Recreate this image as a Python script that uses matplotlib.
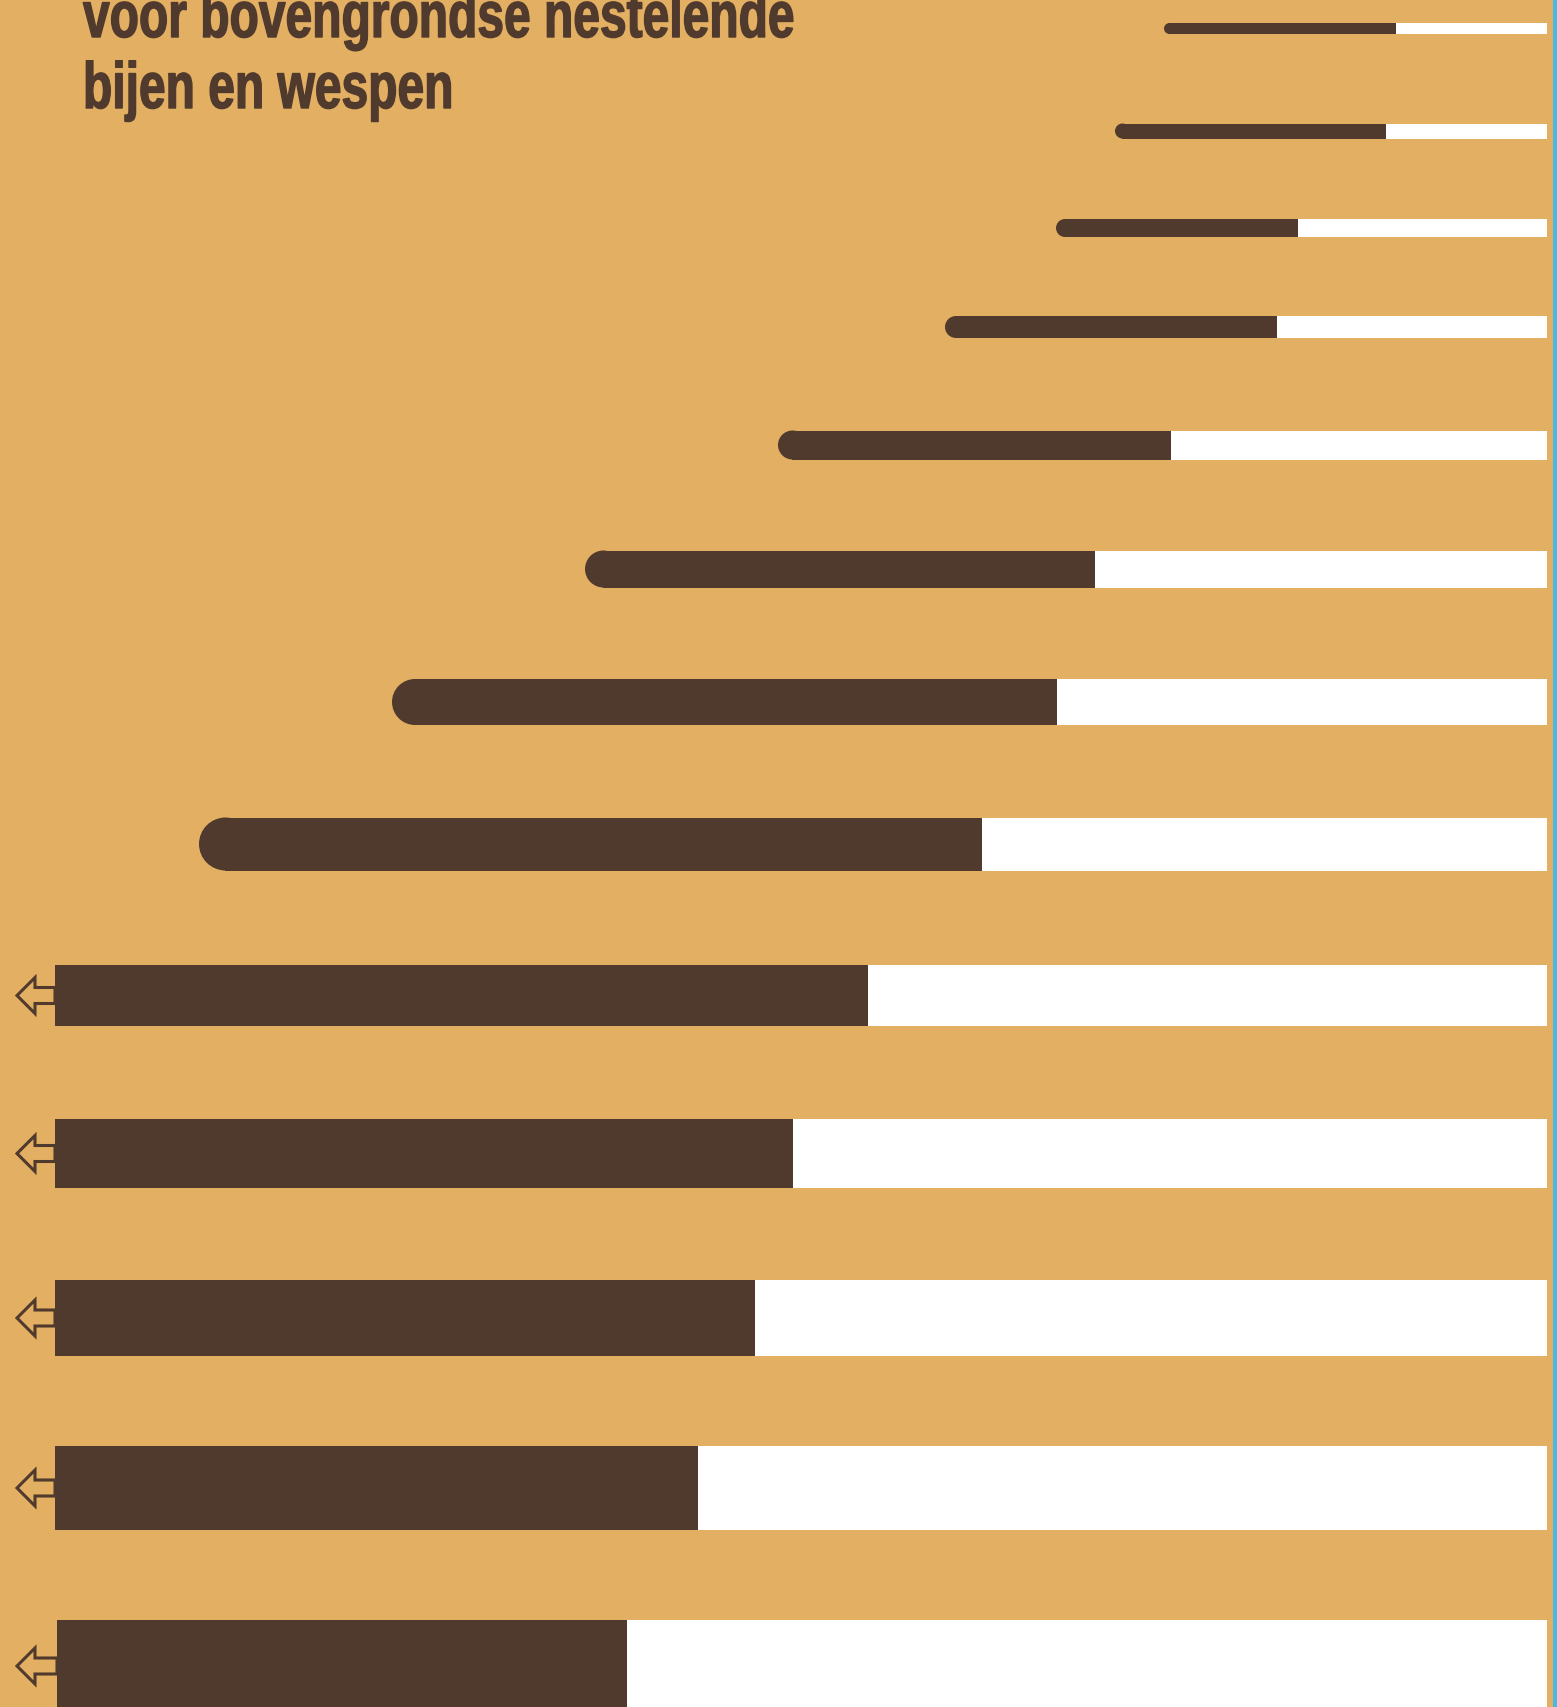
import numpy as np
import matplotlib.pyplot as plt
from matplotlib.patches import Rectangle, Ellipse, Polygon
from matplotlib import patheffects
from matplotlib.transforms import Affine2D

# hole diameter (bar thickness) and lengths, measured from the right edge
thickness = [11, 15, 18, 22, 29, 37, 46, 53, 61, 69, 76, 84, 92]
total_len = [383, 432, 491, 602, 769, 962, 1155, 1348, 1492, 1492, 1492, 1492, 1490]
white_len = [151, 161, 249, 270, 376, 452, 490, 565, 679, 754, 792, 849, 920]
extends = [False] * 8 + [True] * 5
title_lines = ["voor bovengrondse nestelende", "bijen en wespen"]

# layout (pixels)
W, H = 1557, 1708
right_x = 1547
centers = [29.5, 132, 229, 328, 446, 570, 703, 845, 996.5, 1154.5, 1319, 1489, 1667]

bg = "#E3AF62"
dark = "#4F3A2D"
blue = "#4AB8E6"


class HStretch(patheffects.AbstractPathEffect):
    # squeeze glyphs horizontally around the text origin (condensed look),
    # with a thin stroke to make them a bit heavier
    def __init__(self, sx, lw=1.0, color=dark):
        super().__init__()
        self.sx = sx
        self.lw = lw
        self.color = color

    def draw_path(self, renderer, gc, tpath, affine, rgbFace=None):
        trans = Affine2D().scale(self.sx, 1) + affine
        gc0 = renderer.new_gc()
        gc0.copy_properties(gc)
        gc0.set_linewidth(self.lw)
        gc0.set_foreground(self.color)
        renderer.draw_path(gc0, tpath, trans, rgbFace)
        gc0.restore()


fig = plt.figure(figsize=(W / 100, H / 100), dpi=100)
fig.patch.set_facecolor(bg)
ax = fig.add_axes([0, 0, 1, 1])
ax.set_xlim(0, W)
ax.set_ylim(H, 0)
ax.set_facecolor(bg)
ax.axis("off")

for h, tot, wl, ext, cy in zip(thickness, total_len, white_len, extends, centers):
    start = right_x - tot
    split = right_x - wl
    top = cy - h / 2
    # white part
    ax.add_patch(Rectangle((split, top), wl, h, facecolor="white", edgecolor="none"))
    if ext:
        ax.add_patch(Rectangle((start, top), split - start, h, facecolor=dark, edgecolor="none"))
        # hollow arrow: bar continues to the left
        tip = 17
        pts = [(tip, cy), (tip + 18, cy - 18), (tip + 18, cy - 8), (start, cy - 8),
               (start, cy + 8), (tip + 18, cy + 8), (tip + 18, cy + 18)]
        ax.add_patch(Polygon(pts, closed=True, facecolor=bg, edgecolor=dark, lw=2.2,
                             joinstyle="miter"))
    else:
        r = h / 2
        ax.add_patch(Rectangle((start + r, top), split - start - r, h, facecolor=dark,
                               edgecolor="none"))
        ax.add_patch(Ellipse((start + r, cy), h, h, facecolor=dark, edgecolor="none"))

# blue edge on the right
ax.add_patch(Rectangle((1553, 0), 4, H, facecolor=blue, edgecolor="none"))

plt.rcParams['font.family'] = ['Liberation Sans', 'DejaVu Sans']
titles = []
for i, line in enumerate(title_lines):
    t = ax.text(83, 38 + 71 * i, line, fontsize=47, fontweight="bold", color=dark,
                va="baseline", ha="left", family=['Liberation Sans', 'DejaVu Sans'])
    titles.append(t)

# fit first line to the width seen in the reference (about 712 px)
renderer = fig.canvas.get_renderer()
w0 = titles[0].get_window_extent(renderer).width
sx = 710 / w0
for t in titles:
    t.set_path_effects([HStretch(sx)])

fig.savefig("out.png", dpi=100, facecolor=bg)
